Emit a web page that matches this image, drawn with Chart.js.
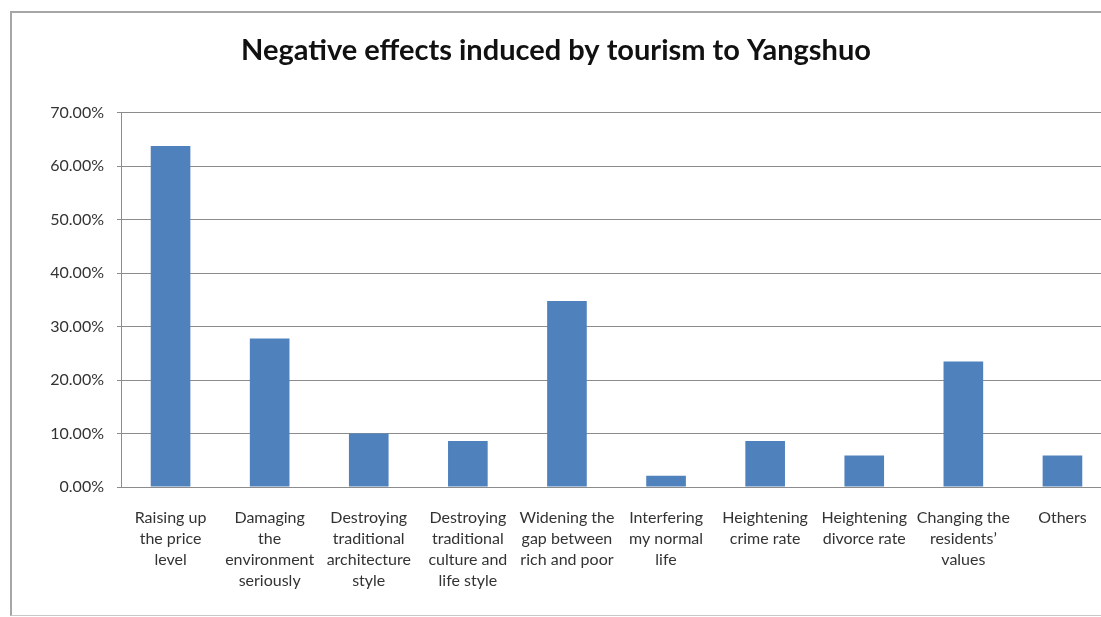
<!DOCTYPE html>
<html>
<head>
<meta charset="utf-8">
<script src="https://cdn.jsdelivr.net/npm/chart.js@4"></script>
<style>
  html, body { margin: 0; padding: 0; background: #fff; overflow: hidden; }
  #wrap { position: relative; width: 1101px; height: 617px; overflow: hidden; }
  #frame {
    position: absolute; left: 10px; top: 11px; width: 1200px; height: 602px;
    border-left: 2px solid #a6a6a6; border-top: 2px solid #a6a6a6; border-bottom: 1px solid #c8c8c8;
  }
  #box { position: absolute; left: 0; top: 0; width: 1112px; height: 617px; }
</style>
</head>
<body>
<div id="wrap">
  <div id="frame"></div>
  <div id="box"><canvas id="chart"></canvas></div>
</div>
<script>
const categories = [
  ['Raising up', 'the price', 'level'],
  ['Damaging', 'the', 'environment', 'seriously'],
  ['Destroying', 'traditional', 'architecture', 'style'],
  ['Destroying', 'traditional', 'culture and', 'life style'],
  ['Widening the', 'gap between', 'rich and poor'],
  ['Interfering', 'my normal', 'life'],
  ['Heightening', 'crime rate'],
  ['Heightening', 'divorce rate'],
  ['Changing the', 'residents\u2019', 'values'],
  ['Others']
];
const shares = [63.8, 27.8, 10.0, 8.6, 34.8, 2.1, 8.6, 5.9, 23.5, 5.9];
const yTicks = [0, 10, 20, 30, 40, 50, 60, 70];

const font = 'Lato, "Open Sans", sans-serif';
const textColor = '#333';
const gridColor = '#8c8c8c';

new Chart(document.getElementById('chart'), {
  type: 'bar',
  data: {
    labels: categories,
    datasets: [{
      data: shares,
      backgroundColor: '#4f81bd',
      barPercentage: 0.4,
      categoryPercentage: 1
    }]
  },
  options: {
    responsive: true,
    maintainAspectRatio: false,
    animation: false,
    layout: { padding: { top: 12, left: 0, right: 0, bottom: 0 } },
    plugins: {
      legend: { display: false },
      tooltip: { enabled: false },
      title: {
        display: true,
        text: 'Negative effects induced by tourism to Yangshuo',
        color: '#111',
        font: { family: font, size: 29, weight: 'bold' },
        padding: { top: 21, bottom: 45 }
      }
    },
    scales: {
      x: {
        grid: { display: false },
        border: { display: false },
        ticks: {
          color: textColor,
          font: { family: font, size: 16, lineHeight: 1.3125 },
          padding: 12,
          maxRotation: 0,
          autoSkip: false
        },
        afterFit: s => { s.height = 130; }
      },
      y: {
        min: 0,
        max: 70,
        afterBuildTicks: s => { s.ticks = yTicks.map(v => ({ value: v })); },
        grid: { color: gridColor, lineWidth: 1, tickLength: 4 },
        border: { color: gridColor },
        ticks: {
          color: textColor,
          font: { family: font, size: 16 },
          padding: 13,
          callback: v => v.toFixed(2) + '%'
        },
        afterFit: s => { s.width = 121; }
      }
    }
  }
});
</script>
</body>
</html>
